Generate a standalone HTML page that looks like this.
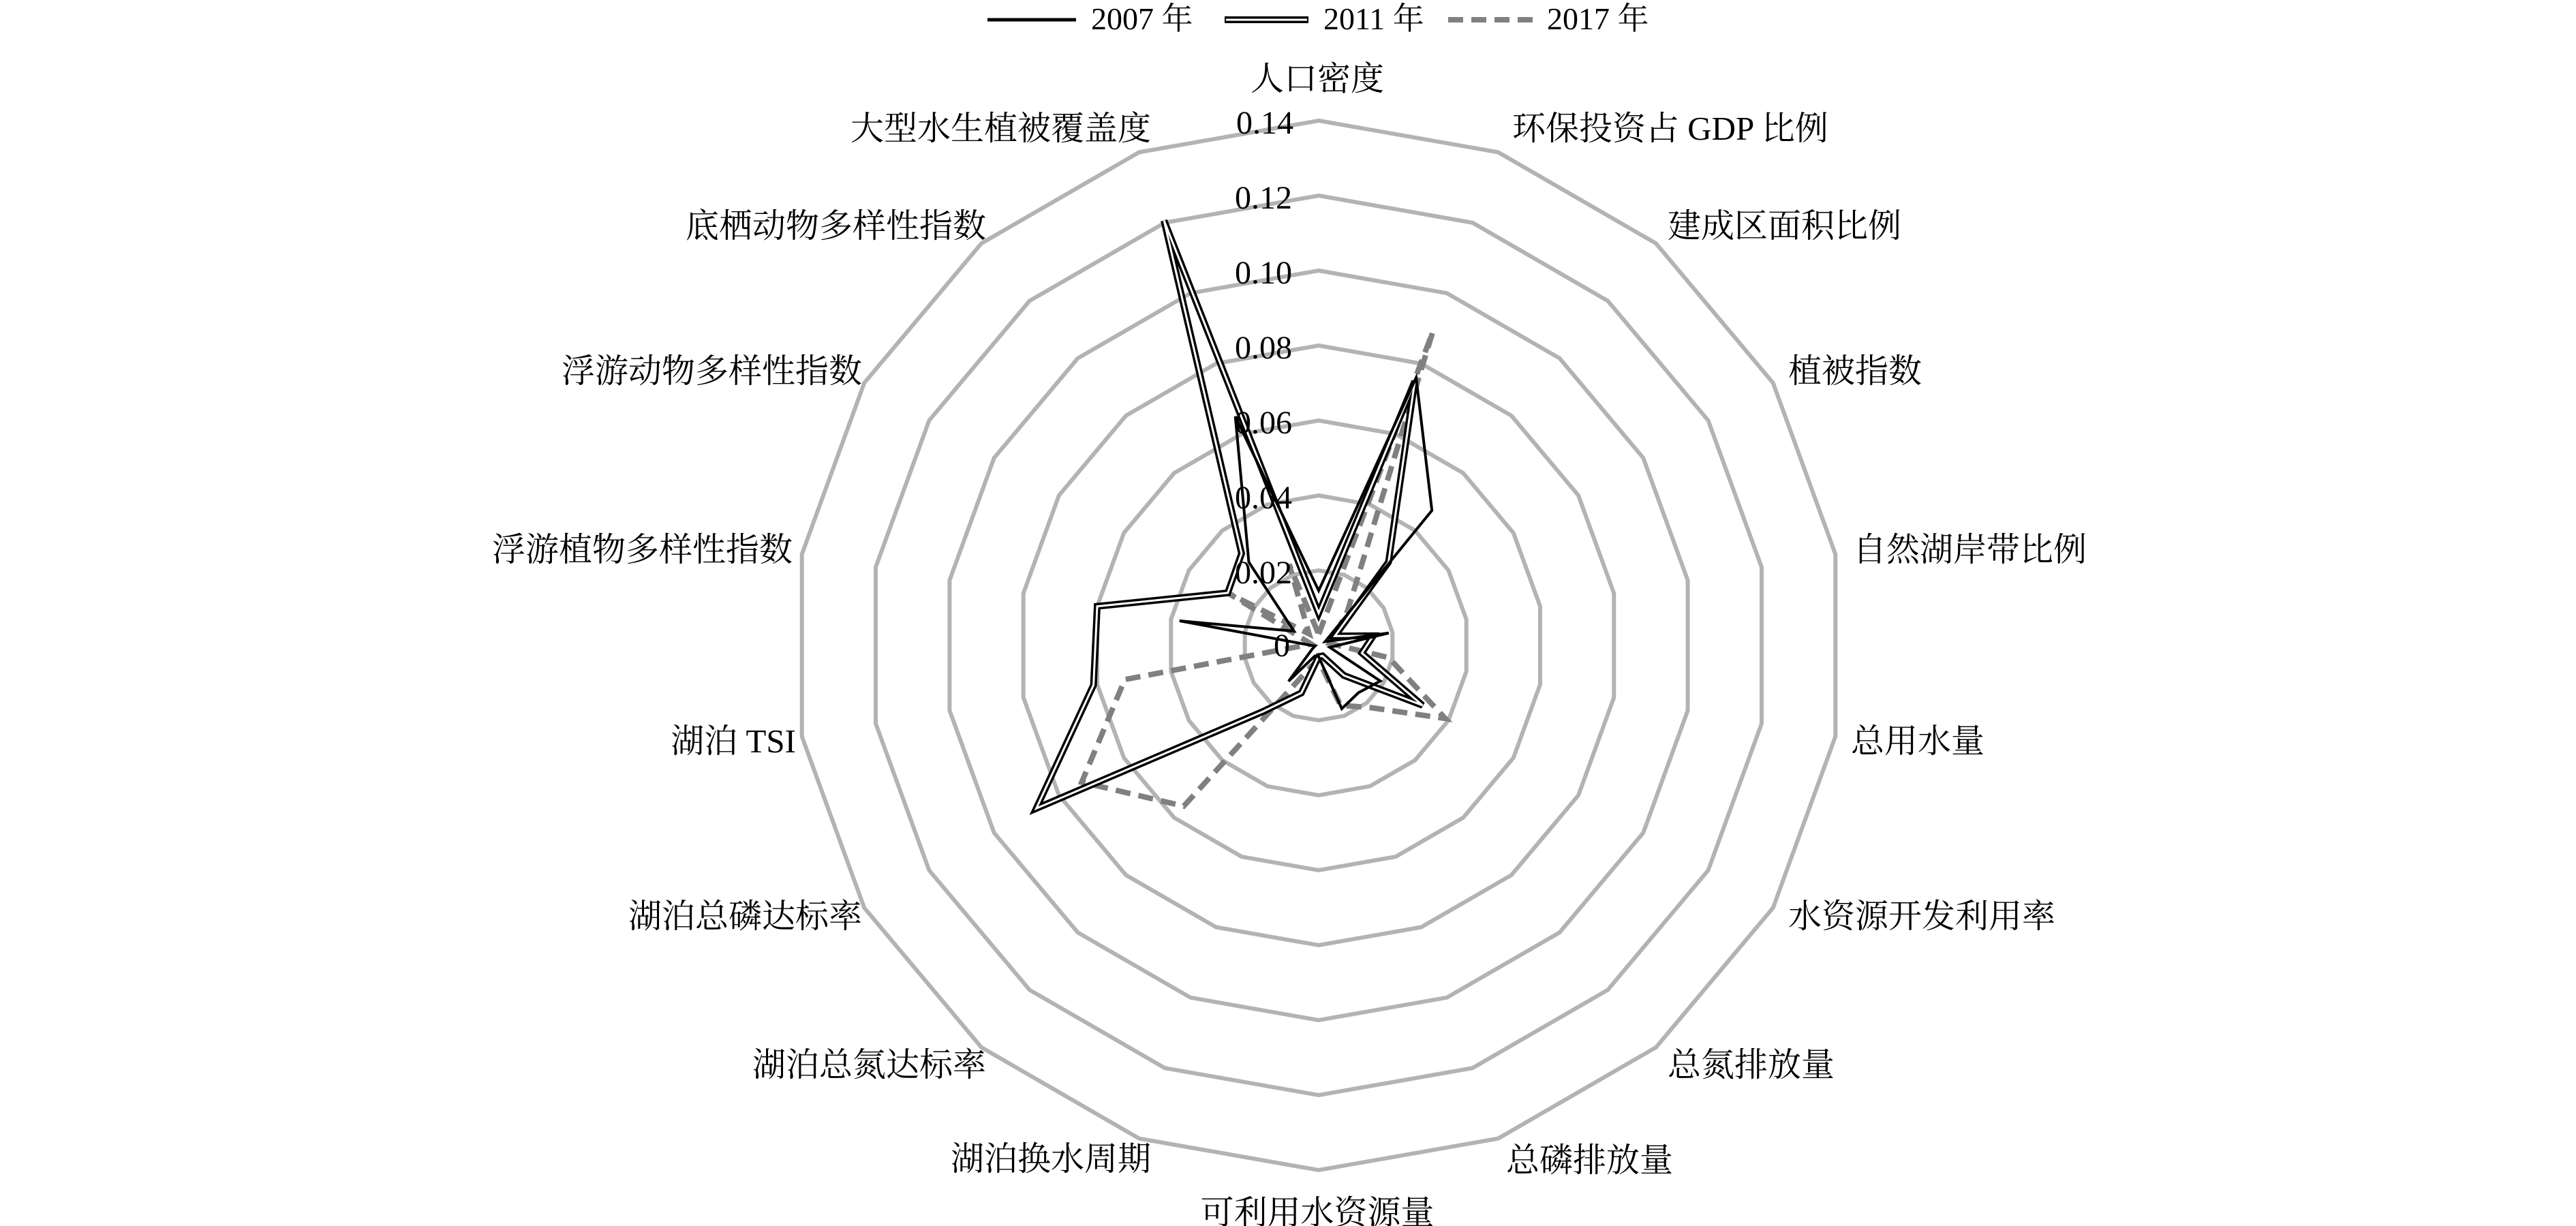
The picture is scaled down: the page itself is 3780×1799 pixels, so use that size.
<!DOCTYPE html>
<html><head><meta charset="utf-8">
<style>
html,body{margin:0;padding:0;background:#fff;}
svg{display:block;}
text{font-family:"Liberation Serif","Noto Serif CJK SC",serif;fill:#000;}
</style></head>
<body>
<svg id="s" width="3780" height="1799" viewBox="0 0 3780 1799" xmlns="http://www.w3.org/2000/svg">
<g id="rings" fill="none" stroke="#b3b3b3" stroke-width="6" stroke-linejoin="miter"></g>
<g id="data" fill="none" stroke-linejoin="miter"></g>
<g font-size="48">
<text x="1898" y="196" text-anchor="end">0.14</text>
<text x="1896" y="306" text-anchor="end">0.12</text>
<text x="1896" y="416" text-anchor="end">0.10</text>
<text x="1896" y="526" text-anchor="end">0.08</text>
<text x="1896" y="636" text-anchor="end">0.06</text>
<text x="1896" y="746" text-anchor="end">0.04</text>
<text x="1896" y="856" text-anchor="end">0.02</text>
<text x="1893" y="963" text-anchor="end">0</text>
</g>
<g font-size="49">
<text x="1933" y="132" text-anchor="middle">人口密度</text>
<text x="2219" y="205">环保投资占 GDP 比例</text>
<text x="2447" y="348">建成区面积比例</text>
<text x="2624" y="561">植被指数</text>
<text x="2719" y="823">自然湖岸带比例</text>
<text x="2716" y="1104">总用水量</text>
<text x="2624" y="1361">水资源开发利用率</text>
<text x="2447" y="1579">总氮排放量</text>
<text x="2210" y="1719">总磷排放量</text>
<text x="1933" y="1796" text-anchor="middle">可利用水资源量</text>
<text x="1689" y="1717" text-anchor="end">湖泊换水周期</text>
<text x="1447" y="1579" text-anchor="end">湖泊总氮达标率</text>
<text x="1265" y="1361" text-anchor="end">湖泊总磷达标率</text>
<text x="1168" y="1104" text-anchor="end">湖泊 TSI</text>
<text x="1163" y="823" text-anchor="end">浮游植物多样性指数</text>
<text x="1265" y="561" text-anchor="end">浮游动物多样性指数</text>
<text x="1447" y="348" text-anchor="end">底栖动物多样性指数</text>
<text x="1689" y="205" text-anchor="end">大型水生植被覆盖度</text>
</g>
<g>
<line x1="1449" y1="29" x2="1579" y2="29" stroke="#000" stroke-width="5"/>
<text x="1601" y="43" font-size="46">2007 年</text>
<line x1="1797" y1="29" x2="1920" y2="29" stroke="#000" stroke-width="10"/>
<line x1="1799" y1="29" x2="1918" y2="29" stroke="#fff" stroke-width="3"/>
<text x="1942" y="43" font-size="46">2011 年</text>
<line x1="2125" y1="29" x2="2250" y2="29" stroke="#808080" stroke-width="8" stroke-dasharray="22 12"/>
<text x="2270" y="43" font-size="46">2017 年</text>
</g>
</svg>
<script>
var cx=1935,cy=947,k=5500;
var NS="http://www.w3.org/2000/svg";
function pts(vals){return vals.map(function(v,i){var a=i*20*Math.PI/180;return (cx+v*k*Math.sin(a)).toFixed(1)+","+(cy-v*k*Math.cos(a)).toFixed(1);}).join(" ");}
var rings=document.getElementById("rings");
for(var r=1;r<=7;r++){var v=[];for(var i=0;i<18;i++)v.push(r*0.02);var p=document.createElementNS(NS,"polygon");p.setAttribute("points",pts(v));rings.appendChild(p);}
var d07=[0.0146,0.076,0.047,0.002,0.019,0.003,0.019,0.0165,0.018,0.003,0.003,0.0125,0.002,0.001,0.0377,0.0076,0.029,0.065];
var d11=[0.0086,0.075,0.029,0.005,0.0148,0.0117,0.032,0.0105,0.003,0.003,0.0135,0.023,0.087,0.061,0.060,0.028,0.032,0.1206];
var d17=[0.003,0.089,0.012,0.005,0.003,0.019,0.039,0.0217,0.017,0.004,0.006,0.056,0.073,0.0525,0.002,0.028,0.004,0.023];
var g=document.getElementById("data");
function add(vals,attrs){var p=document.createElementNS(NS,"polygon");p.setAttribute("points",pts(vals));for(var a in attrs)p.setAttribute(a,attrs[a]);g.appendChild(p);}
add(d17,{stroke:"#808080","stroke-width":"8","stroke-dasharray":"22 12"});
add(d11,{stroke:"#000","stroke-width":"10"});
add(d11,{stroke:"#fff","stroke-width":"3"});
add(d07,{stroke:"#000","stroke-width":"4"});
</script>
</body></html>
